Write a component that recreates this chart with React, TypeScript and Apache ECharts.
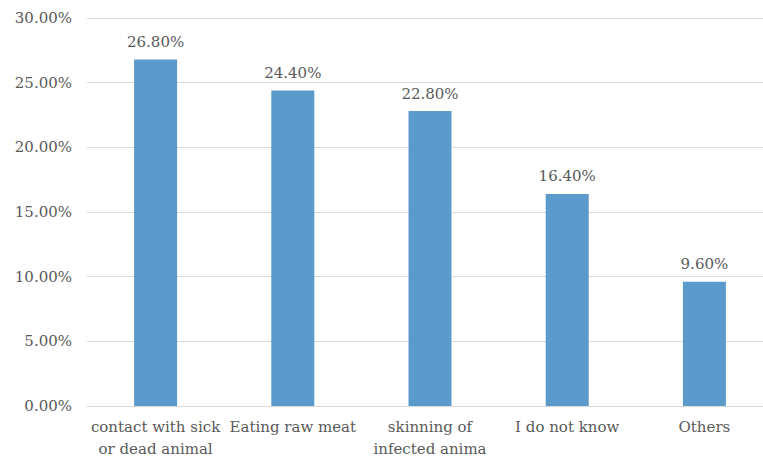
import React, { useEffect, useRef } from "react";
import * as echarts from "echarts";

const categories = [
  "contact with sick\nor dead animal",
  "Eating raw meat",
  "skinning of\ninfected anima",
  "I do not know",
  "Others",
];
const values = [26.8, 24.4, 22.8, 16.4, 9.6];
const yMin = 0;
const yMax = 30;
const yInterval = 5;

const FONT = "DejaVu Serif";
const TEXT = "#595959";
const FS = 15;

export default function App() {
  const ref = useRef<HTMLDivElement>(null);
  useEffect(() => {
    if (!ref.current) return;
    const chart = echarts.init(ref.current, undefined, { renderer: "svg" });
    chart.setOption({
      animation: false,
      backgroundColor: "#ffffff",
      textStyle: { fontFamily: FONT },
      grid: { left: 87, top: 18, width: 686, height: 388, containLabel: false },
      xAxis: {
        type: "category",
        data: categories,
        axisLine: { show: true, lineStyle: { color: "#d9d9d9", width: 1 } },
        axisTick: { show: false },
        axisLabel: {
          color: TEXT,
          fontFamily: FONT,
          fontSize: FS,
          lineHeight: 22,
          margin: 10,
          interval: 0,
        },
      },
      yAxis: {
        type: "value",
        min: yMin,
        max: yMax,
        interval: yInterval,
        axisLine: { show: false },
        axisTick: { show: false },
        splitLine: { lineStyle: { color: "#d9d9d9", width: 1 } },
        axisLabel: {
          color: TEXT,
          fontFamily: FONT,
          fontSize: FS,
          margin: 15,
          formatter: (v: number) => v.toFixed(2) + "%",
        },
      },
      series: [
        {
          type: "bar",
          data: values,
          barWidth: 43,
          itemStyle: { color: "#5b9bcc" },
          label: {
            show: true,
            position: "top",
            distance: 10,
            color: TEXT,
            fontFamily: FONT,
            fontSize: FS,
            formatter: (p: any) => Number(p.value).toFixed(2) + "%",
          },
        },
      ],
    });
    return () => chart.dispose();
  }, []);
  return (
    <div
      style={{
        position: "fixed",
        left: 0,
        top: 0,
        width: 763,
        height: 460,
        overflow: "hidden",
        background: "#fff",
      }}
    >
      <div ref={ref} style={{ width: 790, height: 460 }} />
    </div>
  );
}
